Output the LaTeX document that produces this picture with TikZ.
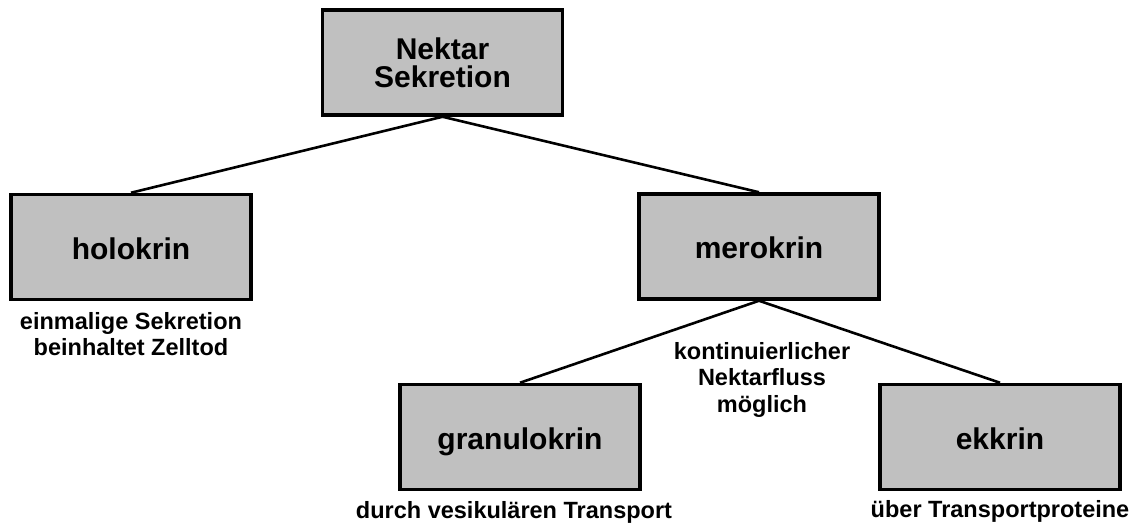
\documentclass[tikz,border=0pt]{standalone}
\usepackage{fontspec}
\setmainfont{Liberation Sans}
\begin{document}
\begin{tikzpicture}[x=1pt,y=-1pt,
  box/.style={draw=black, line width=3.5pt, fill=boxgray, minimum width=240pt,
    minimum height=105pt, inner sep=0pt, align=center,
    font=\fontsize{30}{28}\selectfont\bfseries},
  onebox/.style={box, text height=25pt, text depth=0pt},
  note/.style={align=center, inner sep=0pt,
    font=\fontsize{23.5}{26.5}\selectfont\bfseries},
  link/.style={draw=black, line width=2.6pt}]
\definecolor{boxgray}{HTML}{C0C0C0}
\useasboundingbox (0,0) rectangle (1137,526);

% boxes of the classification tree
\node[box]     (sek)   at (442.5,62.5) {Nektar\\Sekretion};
\node[onebox]  (holo)  at (131,247)    {holokrin};
\node[onebox]  (mero)  at (759,246.5)  {merokrin};
\node[onebox]  (granu) at (520,437)    {granulokrin};
\node[onebox]  (ekk)   at (1000,437)   {ekkrin};

% branches
\draw[link] (sek.south)  -- (holo.north);
\draw[link] (sek.south)  -- (mero.north);
\draw[link] (mero.south) -- (granu.north);
\draw[link] (mero.south) -- (ekk.north);

% explanatory notes
\node[note, anchor=north] (nholo)  at (131,312) {einmalige Sekretion\\beinhaltet Zelltod};
\node[note, anchor=north] (nmero)  at (762,342) {kontinuierlicher\\Nektarfluss\\möglich};
\node[note, anchor=base]  (ngranu) at (514,518) {durch vesikulären Transport};
\node[note, anchor=base]  (nekk)   at (1000,517) {über Transportproteine};
\end{tikzpicture}
\end{document}
